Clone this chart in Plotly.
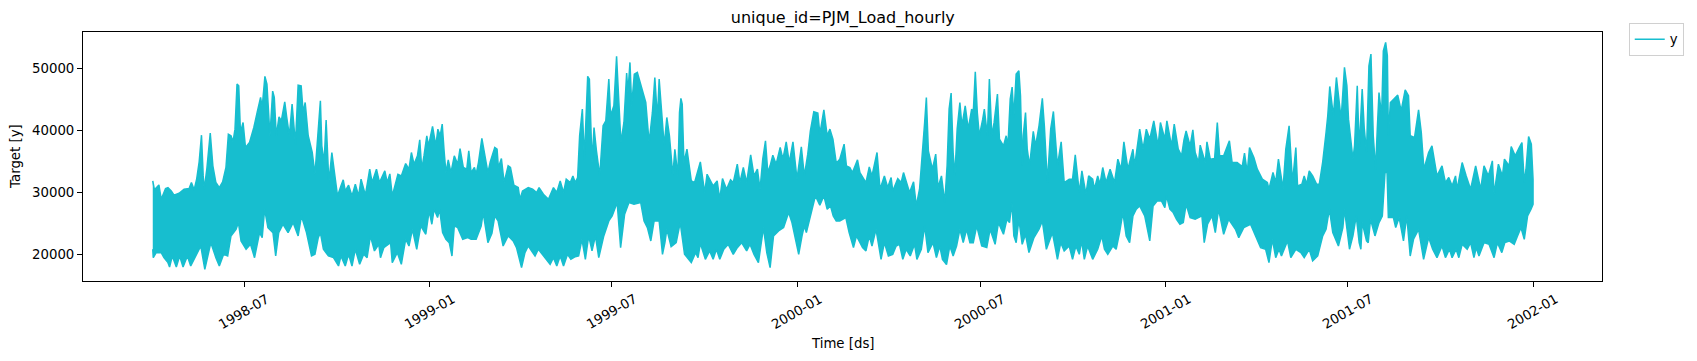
import pandas as pd
import plotly.graph_objects as go

# Hourly PJM load, summarised as the upper (daily peak) and lower (daily trough) envelope
# days are counted from 1998-04-01 00:00
start = "1998-04-01"

hi_days = [0, 1.7, 6.1, 8.4, 12.7, 15.1, 18.4, 21.1, 26.1, 31.1, 36.1, 38.4, 41.1, 43.7, 46.1, 48.4, 50.1, 51.1, 53.7, 57.1,
           59.7, 62.7, 66.1, 69.4, 72.7, 75.1, 77.7, 79.7, 81.7, 83.7, 85.4, 87.1, 89.7, 92.1, 96.1, 100.4, 103.7, 107.1, 108.7, 111.4,
           113.4, 115.1, 116.4, 119.1, 120.7, 122.7, 125.4, 127.7, 131.1, 133.1, 135.7, 138.4, 141.7, 144.4, 147.4, 149.4, 151.4, 154.4, 158.4, 161.1,
           164.4, 166.5, 167.9, 170.2, 172.2, 173.5, 174.9, 177.9, 180.2, 183.5, 186.9, 189.2, 191.2, 194.5, 197.9, 201.2, 204.5, 206.9, 211.2, 215.5,
           217.9, 222.2, 225.2, 230.5, 232.9, 235.5, 237.9, 243.5, 246.9, 251.2, 254.5, 256.9, 259.5, 262.9, 265.2, 267.2, 269.5, 272.2, 273.9, 277.9,
           281.2, 283.2, 285.5, 287.5, 289.5, 291.2, 293.5, 296.2, 299.5, 302.9, 305.2, 308.5, 311.9, 313.9, 316.2, 319.5, 321.2, 323.5, 326.9, 329.5,
           332.9, 335.2, 339.7, 342.0, 343.3, 346.3, 349.0, 353.0, 355.3, 358.7, 363.0, 364.7, 367.3, 373.0, 377.3, 381.3, 383.7, 388.0, 393.0, 398.0,
           401.3, 404.7, 408.0, 410.7, 414.7, 417.3, 419.7, 422.0, 424.0, 426.7, 428.7, 432.0, 433.7, 436.3, 438.3, 440.7, 444.0, 447.3, 450.0, 453.0,
           454.7, 458.0, 460.7, 463.0, 465.0, 468.0, 470.7, 472.0, 474.0, 475.7, 478.3, 481.3, 484.7, 489.7, 493.0, 496.3, 498.7, 501.3, 503.0, 506.3,
           508.0, 510.6, 513.2, 516.6, 518.6, 521.6, 523.2, 524.6, 525.9, 527.6, 530.6, 534.9, 538.2, 543.9, 548.2, 550.6, 556.6, 560.6, 563.2, 565.9,
           569.9, 573.9, 576.6, 580.6, 583.2, 586.6, 589.9, 593.9, 597.2, 600.6, 603.2, 605.9, 608.6, 610.9, 613.2, 615.9, 619.2, 623.2, 625.9, 629.2,
           632.2, 635.9, 639.9, 644.2, 647.2, 650.6, 653.2, 656.6, 660.6, 662.6, 666.6, 669.9, 672.6, 675.6, 678.9, 682.4, 686.7, 689.0, 692.4, 695.0,
           700.0, 702.4, 705.7, 708.4, 711.7, 714.4, 719.4, 722.4, 726.7, 730.0, 733.4, 735.0, 740.0, 743.4, 745.7, 748.4, 751.7, 755.7, 758.4, 761.7,
           764.4, 766.7, 768.4, 770.4, 774.4, 777.7, 780.0, 783.4, 786.7, 789.0, 791.0, 793.0, 795.0, 796.7, 799.0, 801.7, 803.7, 807.0, 810.0, 813.4,
           815.0, 817.0, 819.0, 821.0, 824.4, 826.0, 829.0, 831.0, 833.4, 835.7, 839.0, 841.0, 845.0, 847.7, 849.4, 851.7, 853.6, 855.3, 857.6, 860.3,
           861.9, 863.6, 864.6, 866.9, 868.6, 870.9, 874.6, 876.9, 880.3, 883.6, 885.6, 888.6, 891.9, 894.6, 898.6, 902.3, 905.3, 910.3, 913.6, 916.3,
           920.3, 922.9, 926.9, 929.6, 933.6, 935.3, 938.6, 940.9, 943.6, 946.9, 950.9, 955.3, 958.6, 961.9, 964.6, 968.6, 973.6, 975.3, 980.3, 983.6,
           986.9, 990.3, 994.3, 998.6, 1000.9, 1005.3, 1007.3, 1011.9, 1014.6, 1018.6, 1021.9, 1024.3, 1026.4, 1030.4, 1033.1, 1035.4, 1038.7, 1040.4, 1045.4, 1047.1,
           1050.4, 1054.7, 1057.4, 1059.7, 1063.7, 1069.4, 1072.1, 1077.1, 1082.1, 1084.4, 1087.1, 1089.4, 1093.7, 1097.1, 1102.1, 1107.1, 1108.7, 1112.7, 1115.4, 1118.1,
           1122.7, 1125.4, 1128.7, 1132.1, 1135.4, 1137.1, 1141.4, 1143.7, 1146.1, 1148.7, 1152.1, 1156.1, 1158.7, 1162.1, 1165.4, 1167.1, 1169.1, 1171.1, 1172.7, 1175.7,
           1178.7, 1180.4, 1183.7, 1186.1, 1187.7, 1189.4, 1192.1, 1193.7, 1196.4, 1198.3, 1201.3, 1203.3, 1205.6, 1208.0, 1210.0, 1212.3, 1214.6, 1216.3, 1218.0, 1220.6,
           1222.3, 1224.6, 1226.3, 1227.3, 1229.3, 1233.3, 1236.6, 1240.0, 1244.0, 1247.3, 1249.0, 1253.3, 1257.3, 1260.0, 1262.6, 1267.3, 1270.6, 1275.6, 1280.6, 1284.0,
           1287.3, 1290.6, 1294.0, 1295.6, 1300.6, 1304.6, 1309.0, 1314.0, 1319.0, 1322.3, 1326.6, 1330.6, 1332.3, 1336.6, 1340.6, 1342.6, 1347.3, 1349.3, 1353.3, 1357.3,
           1360.0, 1362.3, 1364.0, 1366.6, 1369.3, 1371.0]
hi_vals = [31900, 30440, 31240, 28930, 30650, 30810, 30270, 29580, 29900, 30540, 30650, 31620, 30440, 32260, 34950, 39250, 32690, 30540, 33770, 39580,
           34310, 31620, 30810, 31730, 34040, 39410, 39150, 38180, 40220, 47480, 47210, 39680, 41300, 37260, 38070, 40490, 42910, 45330, 43720, 48720,
           47480, 43180, 39150, 46350, 45330, 39150, 42210, 41560, 44630, 42100, 39150, 44250, 37800, 47320, 47210, 42910, 44520, 39150, 36460, 32960,
           39680, 44790, 37530, 34840, 41670, 37530, 31620, 36460, 33770, 29470, 31080, 32050, 30270, 31190, 29470, 31350, 29470, 32160, 29580, 33770,
           31620, 33770, 31620, 33500, 31620, 33020, 29470, 32960, 32690, 34680, 33770, 36460, 34580, 35920, 38500, 33770, 36030, 39150, 37530, 40650,
           37530, 40220, 39150, 41030, 36460, 33230, 35280, 33230, 35920, 34580, 37100, 34040, 33770, 36730, 33230, 34040, 32960, 34840, 38720, 36460,
           33230, 34950, 37260, 36990, 34040, 35490, 31620, 34310, 34040, 31190, 30810, 28930, 30270, 30810, 30540, 30010, 30810, 29740, 28930, 30810,
           30010, 31890, 30010, 32160, 31620, 32690, 31620, 32430, 39150, 43450, 35380, 48720, 48280, 34840, 40490, 36730, 32690, 40760, 41560, 48280,
           42370, 43980, 51940, 44520, 38070, 41300, 49250, 46130, 50970, 43980, 49090, 49360, 47210, 44520, 38070, 42910, 48550, 41830, 48280, 40220,
           37530, 42100, 39150, 32690, 36990, 32690, 42910, 45170, 44250, 34840, 36990, 31890, 31620, 34950, 30010, 32960, 31080, 31890, 28930, 32260,
           30540, 32050, 31620, 34580, 31620, 34040, 31620, 36080, 32690, 33770, 30540, 35380, 38340, 33230, 34310, 36030, 34580, 37260, 35380, 38180,
           34840, 38180, 32160, 37370, 32690, 36190, 39950, 43020, 42800, 39410, 43340, 39150, 40220, 38610, 34740, 35380, 37800, 34310, 34040, 33230,
           35280, 33230, 32260, 31620, 34150, 32690, 36460, 30540, 32690, 30810, 32430, 30270, 32260, 31620, 33230, 31620, 30010, 31730, 27850, 30650,
           35920, 41300, 45330, 36730, 33770, 36190, 30810, 32690, 28390, 34310, 43450, 46030, 36460, 32690, 40220, 44520, 40760, 43980, 40220, 43450,
           42910, 49470, 42910, 39150, 41830, 43450, 39150, 48280, 39150, 41300, 45860, 38610, 37530, 39150, 37530, 45060, 47000, 42100, 49090, 49630,
           45600, 34310, 39150, 42910, 36990, 34310, 39850, 37530, 40760, 45170, 40760, 31620, 40220, 43070, 34310, 38180, 31620, 32160, 32160, 36080,
           30010, 33500, 29740, 32690, 32160, 30540, 32690, 31350, 34040, 31620, 33770, 31620, 35380, 33770, 38180, 33770, 36990, 34310, 40220, 36990,
           40220, 38610, 41560, 37530, 41300, 38610, 41560, 37530, 41030, 36990, 35920, 38500, 39950, 37530, 40110, 36460, 34840, 37640, 34840, 38180,
           35380, 35490, 41300, 35920, 35920, 38340, 34840, 34840, 34200, 36350, 33230, 37260, 35650, 33770, 32160, 31620, 30540, 33230, 31620, 35380,
           30650, 36990, 40760, 31620, 37260, 31080, 31350, 32690, 31350, 33500, 32690, 31350, 31350, 34950, 39680, 42370, 47100, 43980, 42370, 48550,
           44520, 41830, 50170, 47210, 41830, 39150, 35380, 37530, 47210, 36990, 46670, 40490, 36460, 50430, 52320, 39150, 33770, 40220, 46130, 42370,
           52850, 54200, 52050, 39150, 44520, 45170, 45700, 43180, 46560, 45600, 39150, 38880, 43340, 39680, 33770, 36460, 37530, 32690, 34310, 31620,
           32430, 31080, 32690, 30540, 34840, 32690, 30540, 34310, 30540, 34310, 32690, 35110, 29740, 34580, 32690, 35380, 34310, 37430, 35920, 37260,
           38070, 31620, 33770, 39030, 37800, 32160]

lo_days = [0, 0.5, 3.4, 8.4, 11.1, 15.1, 16.7, 19.4, 23.4, 26.7, 30.1, 34.4, 37.7, 42.7, 47.7, 51.7, 54.4, 57.7, 62.7, 66.1,
           70.4, 74.4, 77.7, 82.7, 85.1, 87.7, 92.7, 97.1, 101.1, 106.1, 108.7, 111.1, 114.4, 119.4, 122.1, 125.1, 129.4, 134.4, 139.4, 144.4,
           147.7, 152.7, 157.7, 161.1, 164.4, 166.5, 169.5, 174.5, 179.5, 184.5, 186.9, 191.2, 194.5, 197.9, 201.2, 205.5, 209.5, 212.9, 216.2, 220.2,
           224.5, 226.2, 229.5, 236.2, 237.9, 242.9, 246.9, 251.2, 254.5, 257.9, 262.2, 266.2, 271.2, 274.5, 277.2, 279.5, 282.9, 284.9, 287.9, 291.2,
           294.5, 297.2, 299.5, 302.9, 307.9, 312.9, 316.2, 321.2, 326.2, 328.2, 332.9, 336.9, 339.7, 343.0, 348.0, 353.0, 358.0, 361.3, 366.3, 369.7,
           373.0, 379.7, 383.0, 388.0, 394.7, 398.0, 401.3, 404.7, 408.0, 412.0, 415.3, 419.7, 423.0, 426.3, 429.7, 433.0, 436.3, 439.7, 443.0, 448.0,
           453.0, 456.3, 461.3, 464.7, 468.7, 473.0, 478.0, 484.7, 488.0, 491.3, 494.7, 498.0, 503.0, 506.3, 508.7, 510.6, 514.9, 519.9, 523.9, 528.2,
           534.9, 539.2, 541.6, 543.9, 548.9, 553.2, 556.6, 559.9, 563.2, 567.2, 571.6, 576.6, 580.6, 584.9, 589.9, 593.2, 597.2, 601.6, 606.6, 609.9,
           613.2, 616.6, 621.6, 626.6, 631.6, 634.9, 638.2, 641.6, 644.9, 647.2, 649.2, 653.2, 658.2, 662.6, 666.6, 669.9, 673.2, 675.9, 678.9, 682.4,
           688.4, 691.7, 696.0, 699.0, 705.0, 708.4, 711.7, 714.4, 718.4, 723.4, 726.7, 730.7, 735.0, 738.4, 741.7, 745.0, 748.4, 752.4, 756.7, 759.0,
           763.4, 766.7, 770.0, 775.0, 778.4, 781.7, 784.4, 788.4, 791.7, 795.0, 798.4, 801.7, 805.0, 808.4, 811.7, 815.0, 818.4, 823.4, 828.4, 831.7,
           836.7, 840.0, 845.0, 848.4, 851.0, 853.4, 855.3, 857.6, 860.3, 863.6, 866.9, 870.3, 875.3, 880.3, 883.6, 887.6, 893.6, 898.6, 901.9, 905.3,
           910.3, 913.6, 916.9, 920.3, 922.6, 925.3, 928.6, 933.6, 938.6, 942.6, 945.3, 948.6, 953.6, 956.9, 960.3, 963.6, 966.9, 970.3, 973.6, 976.9,
           980.3, 985.3, 986.9, 990.3, 993.6, 997.6, 1001.9, 1005.3, 1006.9, 1010.3, 1013.6, 1016.9, 1020.3, 1023.6, 1026.4, 1030.4, 1035.4, 1042.1, 1044.4, 1047.7,
           1052.1, 1055.4, 1058.7, 1063.7, 1068.7, 1075.4, 1078.7, 1083.7, 1090.4, 1095.4, 1100.4, 1105.4, 1108.7, 1112.1, 1115.4, 1118.7, 1121.1, 1127.1, 1130.4, 1135.4,
           1140.4, 1143.7, 1148.7, 1152.1, 1157.1, 1162.1, 1165.4, 1168.7, 1172.1, 1177.7, 1182.1, 1183.7, 1188.7, 1192.1, 1195.4, 1198.3, 1200.0, 1201.3, 1205.6, 1207.3,
           1209.6, 1214.0, 1218.0, 1221.3, 1224.0, 1226.0, 1227.3, 1232.3, 1234.6, 1238.0, 1242.3, 1245.6, 1249.0, 1252.3, 1257.3, 1262.3, 1267.3, 1271.3, 1275.6, 1280.6,
           1284.0, 1288.0, 1290.6, 1294.6, 1297.3, 1300.6, 1305.6, 1309.0, 1312.3, 1314.6, 1317.3, 1322.3, 1327.3, 1332.3, 1335.6, 1340.0, 1343.0, 1347.3, 1352.3, 1355.6,
           1359.0, 1362.3, 1365.6, 1369.0, 1371.0]
lo_vals = [20870, 19520, 20330, 20330, 19520, 18720, 18020, 19790, 18020, 19790, 18020, 19790, 18180, 19790, 21400, 17640, 19250, 21940, 19520, 18180,
           20060, 19790, 23020, 24090, 25170, 22210, 20870, 21680, 19520, 23550, 22750, 27320, 24360, 23550, 19790, 23550, 24900, 23550, 25170, 23020,
           26240, 23550, 19790, 20060, 22750, 23550, 20870, 19790, 19520, 18180, 19790, 18180, 20060, 18180, 20870, 18450, 20060, 19520, 23020, 20600,
           21670, 19520, 21130, 21940, 18720, 20330, 18450, 22480, 21400, 24090, 20870, 24630, 23290, 27050, 24900, 27320, 25980, 27320, 23550, 22480,
           21940, 19790, 24630, 24360, 22480, 22750, 22480, 22480, 24630, 26780, 21940, 23450, 26240, 25440, 21400, 23020, 22210, 21140, 17910, 20330,
           21400, 19790, 20870, 19790, 18450, 19520, 18180, 19790, 18180, 20060, 19250, 19680, 19790, 22480, 19250, 23020, 20600, 23020, 19520, 23020,
           25440, 26240, 28390, 21140, 26510, 28390, 28120, 28390, 25440, 24360, 22210, 25440, 25440, 20060, 21940, 24090, 21290, 21940, 25170, 20060,
           18720, 20330, 19520, 21830, 19250, 20600, 19250, 20870, 19250, 20870, 21670, 20060, 21130, 21940, 20600, 21670, 20060, 18720, 24360, 20330,
           17910, 23020, 23830, 24360, 26780, 25170, 22480, 20060, 23020, 24630, 23550, 25980, 29470, 27960, 29470, 27320, 27850, 26240, 25440, 25440,
           25980, 23550, 21140, 23020, 21140, 20600, 23020, 21400, 24090, 19250, 21940, 19790, 20060, 21400, 21670, 19250, 20870, 19790, 21670, 19250,
           20870, 24630, 20330, 21940, 19520, 21400, 19250, 18400, 21400, 19790, 21400, 24090, 21940, 24090, 21940, 21940, 24630, 21400, 21140, 24090,
           21670, 25170, 23290, 25700, 25170, 28390, 23020, 21940, 25700, 21670, 23290, 20330, 22750, 24090, 25440, 20870, 23550, 19250, 21940, 20600,
           21400, 19250, 21400, 20060, 22210, 19250, 21400, 19250, 20870, 23020, 20870, 20060, 21400, 20870, 23550, 26780, 23020, 21940, 26240, 27320,
           27850, 26240, 25170, 22210, 27850, 28660, 28660, 27580, 29470, 27320, 26780, 25700, 24900, 25170, 28120, 25980, 25710, 26240, 21940, 24900,
           26240, 23550, 27320, 23290, 25700, 24090, 22750, 24360, 24900, 23020, 21140, 20870, 18720, 22480, 19520, 20870, 19790, 22210, 19520, 20870,
           20330, 19520, 20870, 18990, 19790, 23020, 24090, 27320, 23550, 21400, 24360, 27320, 20870, 23020, 26240, 21940, 20870, 25170, 22210, 21940,
           25700, 23020, 25170, 26240, 33230, 33230, 25980, 25980, 24360, 25980, 22210, 26240, 19790, 22480, 24090, 19250, 22750, 20870, 19520, 21400,
           19520, 20870, 19520, 20870, 19520, 21670, 20870, 21940, 19520, 21130, 19790, 21940, 21670, 19520, 21940, 20330, 21940, 22210, 21670, 23020,
           24360, 22480, 26240, 27320, 28120]

tick_dates = ["1998-07-01", "1999-01-01", "1999-07-01", "2000-01-01", "2000-07-01", "2001-01-01", "2001-07-01", "2002-01-01"]
tick_text = ["1998-07", "1999-01", "1999-07", "2000-01", "2000-07", "2001-01", "2001-07", "2002-01"]
y_ticks = [20000, 30000, 40000, 50000]

base = pd.Timestamp(start)
hi_x = base + pd.to_timedelta(hi_days, unit="D")
lo_x = base + pd.to_timedelta(lo_days, unit="D")

poly_x = list(hi_x) + list(lo_x[::-1])
poly_y = list(hi_vals) + list(lo_vals[::-1])

color = "#17becf"
font = "DejaVu Sans, Verdana, sans-serif"

# the page body has an 8px default margin, so the figure is 8px smaller than the window
W, H = 1689, 353

fig = go.Figure()
fig.add_trace(go.Scatter(x=poly_x, y=poly_y, mode="lines", fill="toself", fillcolor=color,
                         line=dict(color=color, width=1.5), showlegend=False, hoverinfo="skip"))
fig.add_trace(go.Scatter(x=[hi_x[0]], y=[hi_vals[0]], mode="lines", name="y",
                         line=dict(color=color, width=1.5), showlegend=True))

annotations = []
for d, t in zip(tick_dates, tick_text):
    annotations.append(dict(x=d, y=-0.1225, xref="x", yref="paper", text=t, showarrow=False,
                            textangle=-30, xanchor="center", yanchor="middle",
                            font=dict(size=13.3, color="black", family=font)))
annotations.append(dict(x=0.5, y=-0.253, xref="paper", yref="paper", text="Time [ds]", showarrow=False,
                        xanchor="center", yanchor="middle", font=dict(size=13.3, color="black", family=font)))
annotations.append(dict(x=-0.0445, y=0.5, xref="paper", yref="paper", text="Target [y]", showarrow=False,
                        textangle=-90, xanchor="center", yanchor="middle",
                        font=dict(size=13.3, color="black", family=font)))

fig.update_layout(
    width=W, height=H,
    margin=dict(l=75, r=95, t=24, b=80),
    paper_bgcolor="white", plot_bgcolor="white",
    font=dict(family=font, size=13.3, color="black"),
    title=dict(text="unique_id=PJM_Load_hourly", x=(842.8 - 8) / W, xanchor="center",
               y=1 - (17.5 - 8) / H, yanchor="middle", font=dict(size=16, color="black", family=font)),
    showlegend=True,
    legend=dict(x=1.0176, y=1.036, xanchor="left", yanchor="top", bgcolor="white",
                bordercolor="#d0d0d0", borderwidth=1, font=dict(size=13.3, color="black", family=font),
                itemwidth=30, tracegroupgap=0),
    annotations=annotations,
)
fig.update_xaxes(type="date", range=["1998-01-21 17:00", "2002-03-10 12:00"],
                 tickvals=tick_dates, ticktext=tick_text, showticklabels=False,
                 ticks="outside", ticklen=5, tickwidth=1, tickcolor="black",
                 showline=True, mirror=True, linecolor="black", linewidth=1,
                 showgrid=False, zeroline=False)
fig.update_yaxes(range=[15760, 55870], tickvals=y_ticks, ticktext=[str(v) for v in y_ticks],
                 ticks="outside", ticklen=5, tickwidth=1, tickcolor="black",
                 showline=True, mirror=True, linecolor="black", linewidth=1,
                 showgrid=False, zeroline=False, tickfont=dict(size=13.3, color="black", family=font))

fig.write_html("out.html")
